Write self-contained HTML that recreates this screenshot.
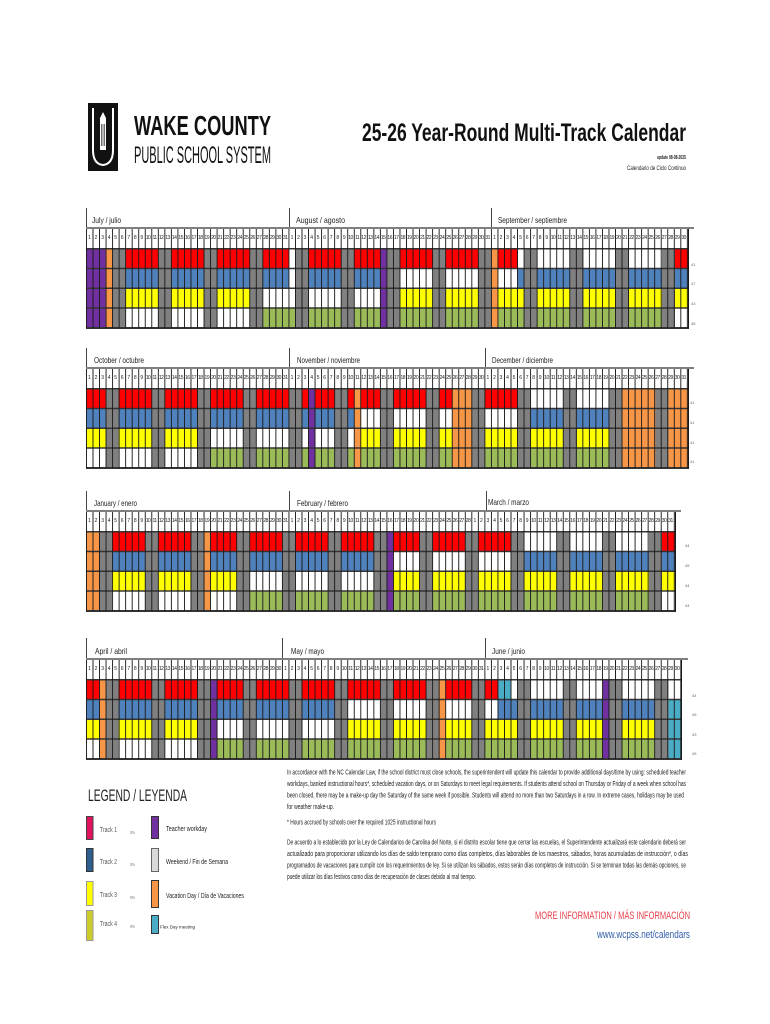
<!DOCTYPE html>
<html><head><meta charset="utf-8">
<style>
*{margin:0;padding:0;box-sizing:border-box}
body{width:770px;height:1024px;background:#fff;position:relative;overflow:hidden;font-family:"Liberation Sans",sans-serif}
.hl{position:absolute;left:86px;height:2px;background:#7f7f7f}
.vl{position:absolute;width:1px;height:20px;background:#444}
.hd{position:absolute;left:86px;height:19px;display:flex;background:#fff;background-image:linear-gradient(90deg,#1a1a1a 1px,transparent 1px);background-size:6.543px 100%;border-right:1px solid #1a1a1a}
.hd i{flex:0 0 6.543px;font:normal 5px/19px "Liberation Sans",sans-serif;text-align:center;letter-spacing:-0.5px;color:#222;overflow:hidden;white-space:nowrap}
svg.g{position:absolute;left:86px;height:79px;display:block}
.ov{position:absolute;left:86px;height:80.5px;background-image:linear-gradient(90deg,#1a1a1a 1px,transparent 1px),linear-gradient(180deg,#333 1.5px,transparent 1.5px);background-size:6.543px 100%,100% 19.75px;border-right:1px solid #1a1a1a;border-bottom:1.5px solid #333}
.w{fill:#808080}.r{fill:#ff0000}.b{fill:#4f81bd}.y{fill:#ffff00}.gn{fill:#9bbb59}.p{fill:#7030a0}.o{fill:#f79646}.f{fill:#4bacc6}
svg.t{position:absolute;left:0;top:0;width:770px;height:1024px}
svg.t text{font-family:"Liberation Sans",sans-serif;fill:#222}
</style></head>
<body>

<!-- ============ BLOCK 1 ============ -->
<div class="vl" style="left:86px;top:208px"></div>
<div class="vl" style="left:289px;top:208px"></div>
<div class="vl" style="left:491px;top:208px"></div>
<div class="hl" style="top:227px;width:608px"></div>
<div class="hd" style="top:229px;width:603px"><i>1</i><i>2</i><i>3</i><i>4</i><i>5</i><i>6</i><i>7</i><i>8</i><i>9</i><i>10</i><i>11</i><i>12</i><i>13</i><i>14</i><i>15</i><i>16</i><i>17</i><i>18</i><i>19</i><i>20</i><i>21</i><i>22</i><i>23</i><i>24</i><i>25</i><i>26</i><i>27</i><i>28</i><i>29</i><i>30</i><i>31</i><i>1</i><i>2</i><i>3</i><i>4</i><i>5</i><i>6</i><i>7</i><i>8</i><i>9</i><i>10</i><i>11</i><i>12</i><i>13</i><i>14</i><i>15</i><i>16</i><i>17</i><i>18</i><i>19</i><i>20</i><i>21</i><i>22</i><i>23</i><i>24</i><i>25</i><i>26</i><i>27</i><i>28</i><i>29</i><i>30</i><i>31</i><i>1</i><i>2</i><i>3</i><i>4</i><i>5</i><i>6</i><i>7</i><i>8</i><i>9</i><i>10</i><i>11</i><i>12</i><i>13</i><i>14</i><i>15</i><i>16</i><i>17</i><i>18</i><i>19</i><i>20</i><i>21</i><i>22</i><i>23</i><i>24</i><i>25</i><i>26</i><i>27</i><i>28</i><i>29</i><i>30</i></div>
<svg class="g" style="top:248px;width:602px" viewBox="0 0 92 4" preserveAspectRatio="none" shape-rendering="crispEdges">
<rect width="92" height="4" fill="#fff"/>
<g class="w"><rect x="4" width="2" height="4"/><rect x="11" width="2" height="4"/><rect x="18" width="2" height="4"/><rect x="25" width="2" height="4"/><rect x="32" width="2" height="4"/><rect x="39" width="2" height="4"/><rect x="46" width="2" height="4"/><rect x="53" width="2" height="4"/><rect x="60" width="2" height="4"/><rect x="67" width="2" height="4"/><rect x="74" width="2" height="4"/><rect x="81" width="2" height="4"/><rect x="88" width="2" height="4"/></g>
<g class="p"><rect x="0" width="3" height="4"/><rect x="45" width="1" height="4"/></g>
<g class="o"><rect x="3" width="1" height="4"/><rect x="62" width="1" height="4"/></g>
<g class="r"><rect x="6" width="5" height="1"/><rect x="13" width="5" height="1"/><rect x="20" width="5" height="1"/><rect x="27" width="4" height="1"/><rect x="34" width="5" height="1"/><rect x="41" width="4" height="1"/><rect x="48" width="5" height="1"/><rect x="55" width="5" height="1"/><rect x="63" width="3" height="1"/><rect x="90" width="2" height="1"/></g>
<g class="b" transform="translate(0 1)"><rect x="6" width="5" height="1"/><rect x="13" width="5" height="1"/><rect x="20" width="5" height="1"/><rect x="27" width="4" height="1"/><rect x="34" width="5" height="1"/><rect x="41" width="4" height="1"/><rect x="66" width="1" height="1"/><rect x="69" width="5" height="1"/><rect x="76" width="5" height="1"/><rect x="83" width="5" height="1"/><rect x="90" width="2" height="1"/></g>
<g class="y" transform="translate(0 2)"><rect x="6" width="5" height="1"/><rect x="13" width="5" height="1"/><rect x="20" width="5" height="1"/><rect x="48" width="5" height="1"/><rect x="55" width="5" height="1"/><rect x="63" width="4" height="1"/><rect x="69" width="5" height="1"/><rect x="76" width="5" height="1"/><rect x="83" width="5" height="1"/><rect x="90" width="2" height="1"/></g>
<g class="gn" transform="translate(0 3)"><rect x="27" width="5" height="1"/><rect x="34" width="5" height="1"/><rect x="41" width="4" height="1"/><rect x="48" width="5" height="1"/><rect x="55" width="5" height="1"/><rect x="63" width="4" height="1"/><rect x="69" width="5" height="1"/><rect x="76" width="5" height="1"/><rect x="83" width="5" height="1"/></g>
</svg>
<div class="ov" style="top:248px;width:603px"></div>

<!-- ============ BLOCK 2 ============ -->
<div class="vl" style="left:86px;top:348px"></div>
<div class="vl" style="left:289px;top:348px"></div>
<div class="vl" style="left:485px;top:348px"></div>
<div class="hl" style="top:367px;width:608px"></div>
<div class="hd" style="top:369px;width:603px"><i>1</i><i>2</i><i>3</i><i>4</i><i>5</i><i>6</i><i>7</i><i>8</i><i>9</i><i>10</i><i>11</i><i>12</i><i>13</i><i>14</i><i>15</i><i>16</i><i>17</i><i>18</i><i>19</i><i>20</i><i>21</i><i>22</i><i>23</i><i>24</i><i>25</i><i>26</i><i>27</i><i>28</i><i>29</i><i>30</i><i>31</i><i>1</i><i>2</i><i>3</i><i>4</i><i>5</i><i>6</i><i>7</i><i>8</i><i>9</i><i>10</i><i>11</i><i>12</i><i>13</i><i>14</i><i>15</i><i>16</i><i>17</i><i>18</i><i>19</i><i>20</i><i>21</i><i>22</i><i>23</i><i>24</i><i>25</i><i>26</i><i>27</i><i>28</i><i>29</i><i>30</i><i>1</i><i>2</i><i>3</i><i>4</i><i>5</i><i>6</i><i>7</i><i>8</i><i>9</i><i>10</i><i>11</i><i>12</i><i>13</i><i>14</i><i>15</i><i>16</i><i>17</i><i>18</i><i>19</i><i>20</i><i>21</i><i>22</i><i>23</i><i>24</i><i>25</i><i>26</i><i>27</i><i>28</i><i>29</i><i>30</i><i>31</i></div>
<svg class="g" style="top:388px;width:602px" viewBox="0 0 92 4" preserveAspectRatio="none" shape-rendering="crispEdges">
<rect width="92" height="4" fill="#fff"/>
<g class="w"><rect x="3" width="2" height="4"/><rect x="10" width="2" height="4"/><rect x="17" width="2" height="4"/><rect x="24" width="2" height="4"/><rect x="31" width="2" height="4"/><rect x="38" width="2" height="4"/><rect x="45" width="2" height="4"/><rect x="52" width="2" height="4"/><rect x="59" width="2" height="4"/><rect x="66" width="2" height="4"/><rect x="73" width="2" height="4"/><rect x="80" width="2" height="4"/><rect x="87" width="2" height="4"/></g>
<g class="p"><rect x="34" width="1" height="4"/></g>
<g class="o"><rect x="41" width="1" height="4"/><rect x="56" width="3" height="4"/><rect x="82" width="5" height="4"/><rect x="89" width="3" height="4"/></g>
<g class="r"><rect x="0" width="3" height="1"/><rect x="5" width="5" height="1"/><rect x="12" width="5" height="1"/><rect x="19" width="5" height="1"/><rect x="26" width="5" height="1"/><rect x="33" width="1" height="1"/><rect x="35" width="3" height="1"/><rect x="40" width="1" height="1"/><rect x="42" width="3" height="1"/><rect x="47" width="5" height="1"/><rect x="54" width="2" height="1"/><rect x="61" width="5" height="1"/></g>
<g class="b" transform="translate(0 1)"><rect x="0" width="3" height="1"/><rect x="5" width="5" height="1"/><rect x="12" width="5" height="1"/><rect x="19" width="5" height="1"/><rect x="26" width="5" height="1"/><rect x="33" width="1" height="1"/><rect x="35" width="3" height="1"/><rect x="40" width="1" height="1"/><rect x="68" width="5" height="1"/><rect x="75" width="5" height="1"/></g>
<g class="y" transform="translate(0 2)"><rect x="0" width="3" height="1"/><rect x="5" width="5" height="1"/><rect x="12" width="5" height="1"/><rect x="42" width="3" height="1"/><rect x="47" width="5" height="1"/><rect x="54" width="2" height="1"/><rect x="61" width="5" height="1"/><rect x="68" width="5" height="1"/><rect x="75" width="5" height="1"/></g>
<g class="gn" transform="translate(0 3)"><rect x="19" width="5" height="1"/><rect x="26" width="5" height="1"/><rect x="33" width="1" height="1"/><rect x="35" width="3" height="1"/><rect x="40" width="1" height="1"/><rect x="42" width="3" height="1"/><rect x="47" width="5" height="1"/><rect x="54" width="2" height="1"/><rect x="61" width="5" height="1"/><rect x="68" width="5" height="1"/><rect x="75" width="5" height="1"/></g>
</svg>
<div class="ov" style="top:388px;width:603px"></div>

<!-- ============ BLOCK 3 ============ -->
<div class="vl" style="left:86px;top:491px"></div>
<div class="vl" style="left:289px;top:491px"></div>
<div class="vl" style="left:486px;top:491px"></div>
<div class="hl" style="top:510px;width:595px"></div>
<div class="hd" style="top:512px;width:590px"><i>1</i><i>2</i><i>3</i><i>4</i><i>5</i><i>6</i><i>7</i><i>8</i><i>9</i><i>10</i><i>11</i><i>12</i><i>13</i><i>14</i><i>15</i><i>16</i><i>17</i><i>18</i><i>19</i><i>20</i><i>21</i><i>22</i><i>23</i><i>24</i><i>25</i><i>26</i><i>27</i><i>28</i><i>29</i><i>30</i><i>31</i><i>1</i><i>2</i><i>3</i><i>4</i><i>5</i><i>6</i><i>7</i><i>8</i><i>9</i><i>10</i><i>11</i><i>12</i><i>13</i><i>14</i><i>15</i><i>16</i><i>17</i><i>18</i><i>19</i><i>20</i><i>21</i><i>22</i><i>23</i><i>24</i><i>25</i><i>26</i><i>27</i><i>28</i><i>1</i><i>2</i><i>3</i><i>4</i><i>5</i><i>6</i><i>7</i><i>8</i><i>9</i><i>10</i><i>11</i><i>12</i><i>13</i><i>14</i><i>15</i><i>16</i><i>17</i><i>18</i><i>19</i><i>20</i><i>21</i><i>22</i><i>23</i><i>24</i><i>25</i><i>26</i><i>27</i><i>28</i><i>29</i><i>30</i><i>31</i></div>
<svg class="g" style="top:531px;width:589px" viewBox="0 0 90 4" preserveAspectRatio="none" shape-rendering="crispEdges">
<rect width="90" height="4" fill="#fff"/>
<g class="w"><rect x="2" width="2" height="4"/><rect x="9" width="2" height="4"/><rect x="16" width="2" height="4"/><rect x="23" width="2" height="4"/><rect x="30" width="2" height="4"/><rect x="37" width="2" height="4"/><rect x="44" width="2" height="4"/><rect x="51" width="2" height="4"/><rect x="58" width="2" height="4"/><rect x="65" width="2" height="4"/><rect x="72" width="2" height="4"/><rect x="79" width="2" height="4"/><rect x="86" width="2" height="4"/></g>
<g class="o"><rect x="0" width="2" height="4"/><rect x="18" width="1" height="4"/></g>
<g class="p"><rect x="46" width="1" height="4"/></g>
<g class="r"><rect x="4" width="5" height="1"/><rect x="11" width="5" height="1"/><rect x="19" width="4" height="1"/><rect x="25" width="5" height="1"/><rect x="32" width="5" height="1"/><rect x="39" width="5" height="1"/><rect x="47" width="4" height="1"/><rect x="53" width="5" height="1"/><rect x="60" width="5" height="1"/><rect x="88" width="2" height="1"/></g>
<g class="b" transform="translate(0 1)"><rect x="4" width="5" height="1"/><rect x="11" width="5" height="1"/><rect x="19" width="4" height="1"/><rect x="25" width="5" height="1"/><rect x="32" width="5" height="1"/><rect x="39" width="5" height="1"/><rect x="67" width="5" height="1"/><rect x="74" width="5" height="1"/><rect x="81" width="5" height="1"/><rect x="88" width="2" height="1"/></g>
<g class="y" transform="translate(0 2)"><rect x="4" width="5" height="1"/><rect x="11" width="5" height="1"/><rect x="19" width="4" height="1"/><rect x="47" width="4" height="1"/><rect x="53" width="5" height="1"/><rect x="60" width="5" height="1"/><rect x="67" width="5" height="1"/><rect x="74" width="5" height="1"/><rect x="81" width="5" height="1"/><rect x="88" width="2" height="1"/></g>
<g class="gn" transform="translate(0 3)"><rect x="25" width="5" height="1"/><rect x="32" width="5" height="1"/><rect x="39" width="5" height="1"/><rect x="47" width="4" height="1"/><rect x="53" width="5" height="1"/><rect x="60" width="5" height="1"/><rect x="67" width="5" height="1"/><rect x="74" width="5" height="1"/><rect x="81" width="5" height="1"/></g>
</svg>
<div class="ov" style="top:531px;width:590px"></div>

<!-- ============ BLOCK 4 ============ -->
<div class="vl" style="left:86px;top:638px"></div>
<div class="vl" style="left:282px;top:638px"></div>
<div class="vl" style="left:485px;top:638px"></div>
<div class="hl" style="top:658px;width:602px"></div>
<div class="hd" style="top:660px;width:596.4px"><i>1</i><i>2</i><i>3</i><i>4</i><i>5</i><i>6</i><i>7</i><i>8</i><i>9</i><i>10</i><i>11</i><i>12</i><i>13</i><i>14</i><i>15</i><i>16</i><i>17</i><i>18</i><i>19</i><i>20</i><i>21</i><i>22</i><i>23</i><i>24</i><i>25</i><i>26</i><i>27</i><i>28</i><i>29</i><i>30</i><i>1</i><i>2</i><i>3</i><i>4</i><i>5</i><i>6</i><i>7</i><i>8</i><i>9</i><i>10</i><i>11</i><i>12</i><i>13</i><i>14</i><i>15</i><i>16</i><i>17</i><i>18</i><i>19</i><i>20</i><i>21</i><i>22</i><i>23</i><i>24</i><i>25</i><i>26</i><i>27</i><i>28</i><i>29</i><i>30</i><i>31</i><i>1</i><i>2</i><i>3</i><i>4</i><i>5</i><i>6</i><i>7</i><i>8</i><i>9</i><i>10</i><i>11</i><i>12</i><i>13</i><i>14</i><i>15</i><i>16</i><i>17</i><i>18</i><i>19</i><i>20</i><i>21</i><i>22</i><i>23</i><i>24</i><i>25</i><i>26</i><i>27</i><i>28</i><i>29</i><i>30</i></div>
<svg class="g" style="top:679px;width:595.4px" viewBox="0 0 91 4" preserveAspectRatio="none" shape-rendering="crispEdges">
<rect width="91" height="4" fill="#fff"/>
<g class="w"><rect x="3" width="2" height="4"/><rect x="10" width="2" height="4"/><rect x="17" width="2" height="4"/><rect x="24" width="2" height="4"/><rect x="31" width="2" height="4"/><rect x="38" width="2" height="4"/><rect x="45" width="2" height="4"/><rect x="52" width="2" height="4"/><rect x="59" width="2" height="4"/><rect x="66" width="2" height="4"/><rect x="73" width="2" height="4"/><rect x="80" width="2" height="4"/><rect x="87" width="2" height="4"/></g>
<g class="o"><rect x="2" width="1" height="4"/><rect x="54" width="1" height="4"/></g>
<g class="p"><rect x="19" width="1" height="4"/><rect x="79" width="1" height="4"/></g>
<g class="r"><rect x="0" width="2" height="1"/><rect x="5" width="5" height="1"/><rect x="12" width="5" height="1"/><rect x="20" width="4" height="1"/><rect x="26" width="5" height="1"/><rect x="33" width="5" height="1"/><rect x="40" width="5" height="1"/><rect x="47" width="5" height="1"/><rect x="55" width="4" height="1"/><rect x="61" width="2" height="1"/></g>
<rect class="f" x="63" width="2" height="1"/>
<g class="b" transform="translate(0 1)"><rect x="0" width="2" height="1"/><rect x="5" width="5" height="1"/><rect x="12" width="5" height="1"/><rect x="20" width="4" height="1"/><rect x="26" width="5" height="1"/><rect x="33" width="5" height="1"/><rect x="63" width="3" height="1"/><rect x="68" width="5" height="1"/><rect x="75" width="4" height="1"/><rect x="82" width="5" height="1"/></g>
<g class="y" transform="translate(0 2)"><rect x="0" width="2" height="1"/><rect x="5" width="5" height="1"/><rect x="12" width="5" height="1"/><rect x="40" width="5" height="1"/><rect x="47" width="5" height="1"/><rect x="55" width="4" height="1"/><rect x="61" width="5" height="1"/><rect x="68" width="5" height="1"/><rect x="75" width="4" height="1"/><rect x="82" width="5" height="1"/></g>
<g class="gn" transform="translate(0 3)"><rect x="20" width="4" height="1"/><rect x="26" width="5" height="1"/><rect x="33" width="5" height="1"/><rect x="40" width="5" height="1"/><rect x="47" width="5" height="1"/><rect x="55" width="4" height="1"/><rect x="61" width="5" height="1"/><rect x="68" width="5" height="1"/><rect x="75" width="4" height="1"/><rect x="82" width="5" height="1"/></g>
<rect class="f" x="89" y="1" width="2" height="3"/>
</svg>
<div class="ov" style="top:679px;width:596.4px"></div>

<!-- ============ TEXT / GRAPHICS OVERLAY ============ -->
<svg class="t" viewBox="0 0 770 1024">
<!-- logo -->
<rect x="88" y="103" width="30" height="68" fill="#111"/>
<path d="M93 108V150Q93 164 103 165Q113 164 113 150V108" fill="none" stroke="#fff" stroke-width="2"/>
<path d="M100 150V118L103 112L106 118V150Z" fill="#fff"/>
<path d="M101.5 124V146M103 124V146M104.5 124V146" stroke="#111" stroke-width="0.6"/>
<text x="134" y="135" font-size="28" font-weight="bold" textLength="137" lengthAdjust="spacingAndGlyphs" style="fill:#111">WAKE COUNTY</text>
<text x="134" y="163" font-size="24" textLength="137" lengthAdjust="spacingAndGlyphs" style="fill:#111">PUBLIC SCHOOL SYSTEM</text>
<text x="362" y="141" font-size="25" font-weight="bold" textLength="324" lengthAdjust="spacingAndGlyphs" style="fill:#111">25-26 Year-Round Multi-Track Calendar</text>
<text x="657" y="159" font-size="5.5" font-weight="bold" textLength="29" lengthAdjust="spacingAndGlyphs">update 08-08-2025</text>
<text x="627" y="170" font-size="6.5" textLength="59" lengthAdjust="spacingAndGlyphs">Calendario de Ciclo Continuo</text>

<!-- month labels -->
<text x="92" y="223" font-size="8.5" textLength="29" lengthAdjust="spacingAndGlyphs">July / julio</text>
<text x="296" y="223" font-size="8.5" textLength="49" lengthAdjust="spacingAndGlyphs">August / agosto</text>
<text x="498" y="223" font-size="8.5" textLength="69" lengthAdjust="spacingAndGlyphs">September / septiembre</text>
<text x="94" y="363" font-size="8.5" textLength="50" lengthAdjust="spacingAndGlyphs">October / octubre</text>
<text x="297" y="363" font-size="8.5" textLength="63" lengthAdjust="spacingAndGlyphs">November / noviembre</text>
<text x="492" y="363" font-size="8.5" textLength="61" lengthAdjust="spacingAndGlyphs">December / diciembre</text>
<text x="94" y="506" font-size="8.5" textLength="43" lengthAdjust="spacingAndGlyphs">January / enero</text>
<text x="297" y="506" font-size="8.5" textLength="51" lengthAdjust="spacingAndGlyphs">February / febrero</text>
<text x="488" y="505" font-size="8.5" textLength="41" lengthAdjust="spacingAndGlyphs">March / marzo</text>
<text x="95" y="654" font-size="8.5" textLength="32" lengthAdjust="spacingAndGlyphs">April / abril</text>
<text x="291" y="654" font-size="8.5" textLength="33" lengthAdjust="spacingAndGlyphs">May / mayo</text>
<text x="492" y="654" font-size="8.5" textLength="33" lengthAdjust="spacingAndGlyphs">June / junio</text>

<!-- row side labels -->
<g font-size="4">
<text x="691" y="266" style="fill:#666">41</text><text x="691" y="285" style="fill:#666">47</text><text x="691" y="305" style="fill:#666">43</text><text x="691" y="325" style="fill:#666">45</text>
<text x="690" y="404" style="fill:#666">41</text><text x="690" y="424" style="fill:#666">41</text><text x="690" y="444" style="fill:#666">41</text><text x="690" y="463" style="fill:#666">41</text>
<text x="685" y="547" style="fill:#666">44</text><text x="685" y="567" style="fill:#666">45</text><text x="685" y="587" style="fill:#666">44</text><text x="685" y="607" style="fill:#666">44</text>
<text x="692" y="697" style="fill:#666">44</text><text x="692" y="716" style="fill:#666">45</text><text x="692" y="736" style="fill:#666">43</text><text x="692" y="755" style="fill:#666">45</text>
</g>

<!-- legend -->
<text x="88" y="801" font-size="17" textLength="99" lengthAdjust="spacingAndGlyphs">LEGEND / LEYENDA</text>
<rect x="86.5" y="816.5" width="6.5" height="23" fill="#e0115f" stroke="#444" stroke-width="1"/>
<rect x="86.5" y="848.5" width="6.5" height="23" fill="#2f5f8f" stroke="#333" stroke-width="1"/>
<rect x="86.5" y="881.5" width="6.5" height="24" fill="#ffff00" stroke="#999" stroke-width="1"/>
<rect x="86.5" y="910.5" width="6.5" height="30" fill="#cccc2a" stroke="#999" stroke-width="1"/>
<text x="100" y="832" font-size="7" textLength="17" lengthAdjust="spacingAndGlyphs" style="fill:#555">Track 1</text>
<text x="100" y="864" font-size="7" textLength="17" lengthAdjust="spacingAndGlyphs" style="fill:#555">Track 2</text>
<text x="100" y="897" font-size="7" textLength="17" lengthAdjust="spacingAndGlyphs" style="fill:#555">Track 3</text>
<text x="100" y="926" font-size="7" textLength="17" lengthAdjust="spacingAndGlyphs" style="fill:#555">Track 4</text>
<text x="130" y="834" font-size="4.5" textLength="5" lengthAdjust="spacingAndGlyphs" style="fill:#777">0%</text>
<text x="130" y="866" font-size="4.5" textLength="5" lengthAdjust="spacingAndGlyphs" style="fill:#777">0%</text>
<text x="130" y="899" font-size="4.5" textLength="5" lengthAdjust="spacingAndGlyphs" style="fill:#777">0%</text>
<text x="130" y="928" font-size="4.5" textLength="5" lengthAdjust="spacingAndGlyphs" style="fill:#777">0%</text>
<rect x="151.5" y="816.5" width="7" height="22" fill="#7030a0" stroke="#333" stroke-width="1"/>
<rect x="151.5" y="848.5" width="7" height="23" fill="#d9d9d9" stroke="#666" stroke-width="1"/>
<rect x="151.5" y="880.5" width="7" height="27" fill="#f79646" stroke="#333" stroke-width="1"/>
<rect x="151.5" y="915.5" width="7" height="18" fill="#4bacc6" stroke="#333" stroke-width="1"/>
<text x="166" y="831" font-size="7.5" textLength="41" lengthAdjust="spacingAndGlyphs">Teacher workday</text>
<text x="166" y="864" font-size="7.5" textLength="62" lengthAdjust="spacingAndGlyphs">Weekend / Fin de Semana</text>
<text x="166" y="898" font-size="7.5" textLength="78" lengthAdjust="spacingAndGlyphs">Vacation Day / Día de Vacaciones</text>
<text x="160" y="928.5" font-size="4.5" textLength="35" lengthAdjust="spacingAndGlyphs">Flex Day meeting</text>

<!-- paragraphs -->
<g font-size="7">
<text x="287" y="774.5" textLength="399" lengthAdjust="spacingAndGlyphs">In accordance with the NC Calendar Law, if the school district must close schools, the superintendent will update this calendar to provide additional days/time by using: scheduled teacher</text>
<text x="287" y="786" textLength="399" lengthAdjust="spacingAndGlyphs">workdays, banked instructional hours*, scheduled vacation days, or on Saturdays to meet legal requirements. If students attend school on Thursday or Friday of a week when school has</text>
<text x="287" y="797.5" textLength="397" lengthAdjust="spacingAndGlyphs">been closed, there may be a make-up day the Saturday of the same week if possible. Students will attend no more than two Saturdays in a row. In extreme cases, holidays may be used</text>
<text x="287" y="809" textLength="47" lengthAdjust="spacingAndGlyphs">for weather make-up.</text>
<text x="287" y="824.5" textLength="149" lengthAdjust="spacingAndGlyphs">* Hours accrued by schools over the required 1025 instructional hours</text>
<text x="287" y="844.5" textLength="399" lengthAdjust="spacingAndGlyphs">De acuerdo a lo establecido por la Ley de Calendarios de Carolina del Norte, si el distrito escolar tiene que cerrar las escuelas, el Superintendente actualizará este calendario deberá ser</text>
<text x="287" y="856" textLength="401" lengthAdjust="spacingAndGlyphs">actualizado para proporcionar utilizando los días de saldo temprano como días completos, días laborables de los maestros, sábados, horas acumuladas de instrucción*, o días</text>
<text x="287" y="867.5" textLength="399" lengthAdjust="spacingAndGlyphs">programados de vacaciones para cumplir con los requerimientos de ley.  Si se utilizan los sábados, estos serán días completos de instrucción. Si se terminan todas las demás opciones, se</text>
<text x="287" y="879" textLength="189" lengthAdjust="spacingAndGlyphs">puede utilizar los días festivos como días de recuperación de clases debido al mal tiempo.</text>
</g>
<text x="535" y="919" font-size="11" textLength="155" lengthAdjust="spacingAndGlyphs" style="fill:#e8404a">MORE INFORMATION / MÁS INFORMACIÓN</text>
<text x="597" y="938" font-size="11" textLength="93" lengthAdjust="spacingAndGlyphs" style="fill:#2e5da8">www.wcpss.net/calendars</text>
</svg>
</body></html>
